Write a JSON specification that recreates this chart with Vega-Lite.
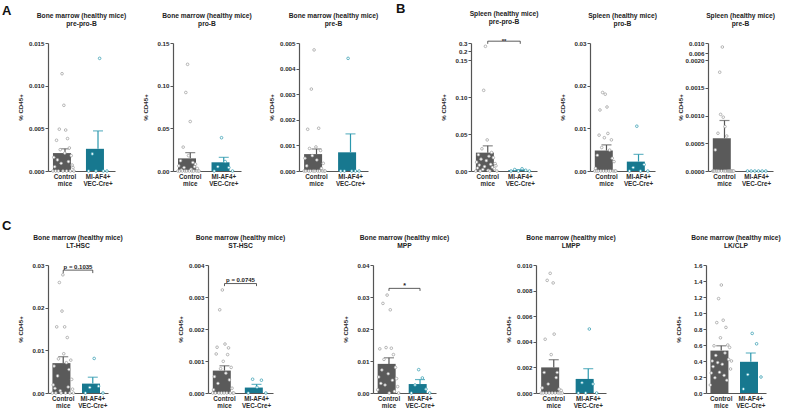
{
  "$schema": "https://vega.github.io/schema/vega-lite/v6.json",
  "padding": {"left": 2, "top": 2, "right": 2, "bottom": 0},
  "background": "white",
  "config": {
    "font": "Liberation Sans",
    "view": {"stroke": null},
    "axis": {"grid": false, "domainColor": "#555555", "tickColor": "#555555", "labelColor": "#2a2a2a", "titleColor": "#2a2a2a", "labelFont": "Liberation Sans", "titleFont": "Liberation Sans"},
    "axisY": {"tickSize": 3, "tickWidth": 1, "labelPadding": 1, "labelFontSize": 6.2, "labelFontWeight": "bold", "titleFontSize": 6.2, "titleFontWeight": "bold", "minExtent": 21, "maxExtent": 21, "titlePadding": 4, "domainWidth": 1.2, "labelOverlap": false},
    "axisX": {"ticks": false, "labelAngle": 0, "labelFontSize": 6.3, "labelLineHeight": 7, "labelPadding": 2, "domainWidth": 1.2, "labelOverlap": false, "labelFontWeight": "bold"},
    "title": {"fontSize": 6.7, "fontWeight": "bold", "lineHeight": 8.3, "offset": 12, "color": "#222222", "font": "Liberation Sans"},
    "scale": {"bandPaddingInner": 0.27, "bandPaddingOuter": 0.15}
  },
  "datasets": {
    "bars": [
      {"p": "A1", "g": "Control mice", "mean": 0.0021, "hi": 0.0026},
      {"p": "A1", "g": "MI-AF4+ VEC-Cre+", "mean": 0.0026, "hi": 0.0047},
      {"p": "A2", "g": "Control mice", "mean": 0.0148, "hi": 0.0215},
      {"p": "A2", "g": "MI-AF4+ VEC-Cre+", "mean": 0.0102, "hi": 0.016},
      {"p": "A3", "g": "Control mice", "mean": 0.00066, "hi": 0.00086},
      {"p": "A3", "g": "MI-AF4+ VEC-Cre+", "mean": 0.00073, "hi": 0.00145},
      {"p": "B1", "g": "Control mice", "mean": 0.0248, "hi": 0.034},
      {"p": "B1", "g": "MI-AF4+ VEC-Cre+", "mean": 0.0012, "hi": 0.0018},
      {"p": "B2", "g": "Control mice", "mean": 0.0048, "hi": 0.0061},
      {"p": "B2", "g": "MI-AF4+ VEC-Cre+", "mean": 0.0022, "hi": 0.0039},
      {"p": "B3", "g": "Control mice", "mean": 0.00059, "hi": 0.00091},
      {"p": "B3", "g": "MI-AF4+ VEC-Cre+", "mean": 0, "hi": 0},
      {"p": "C1", "g": "Control mice", "mean": 0.007, "hi": 0.0085},
      {"p": "C1", "g": "MI-AF4+ VEC-Cre+", "mean": 0.0022, "hi": 0.0037},
      {"p": "C2", "g": "Control mice", "mean": 0.0007, "hi": 0.00085},
      {"p": "C2", "g": "MI-AF4+ VEC-Cre+", "mean": 0.00017, "hi": 0.00027},
      {"p": "C3", "g": "Control mice", "mean": 0.0091, "hi": 0.011},
      {"p": "C3", "g": "MI-AF4+ VEC-Cre+", "mean": 0.0028, "hi": 0.0042},
      {"p": "C4", "g": "Control mice", "mean": 0.002, "hi": 0.0026},
      {"p": "C4", "g": "MI-AF4+ VEC-Cre+", "mean": 0.0011, "hi": 0.0019},
      {"p": "C5", "g": "Control mice", "mean": 0.53, "hi": 0.59},
      {"p": "C5", "g": "MI-AF4+ VEC-Cre+", "mean": 0.39, "hi": 0.5}
    ],
    "sig": [
      {"p": "B1", "a": "Control mice", "b": "MI-AF4+ VEC-Cre+", "y": 0.322, "t": 0.29, "label": "**"},
      {"p": "C1", "a": "Control mice", "b": "MI-AF4+ VEC-Cre+", "y": 0.0288, "t": 0.0281, "label": "p = 0.1035"},
      {"p": "C2", "a": "Control mice", "b": "MI-AF4+ VEC-Cre+", "y": 0.00342, "t": 0.00334, "label": "p = 0.0745"},
      {"p": "C3", "a": "Control mice", "b": "MI-AF4+ VEC-Cre+", "y": 0.0327, "t": 0.0319, "label": "*"}
    ],
    "pts": [
      {"p":"A1","g":"Control mice","v":0},{"p":"A1","g":"Control mice","v":0.0016},{"p":"A1","g":"Control mice","v":0.0005},{"p":"A1","g":"Control mice","v":0},{"p":"A1","g":"Control mice","v":0.0036},{"p":"A1","g":"Control mice","v":0.0013},{"p":"A1","g":"Control mice","v":0},{"p":"A1","g":"Control mice","v":0.0049},{"p":"A1","g":"Control mice","v":0.0025},{"p":"A1","g":"Control mice","v":0.0009},{"p":"A1","g":"Control mice","v":0.0114},{"p":"A1","g":"Control mice","v":0},{"p":"A1","g":"Control mice","v":0.0077},{"p":"A1","g":"Control mice","v":0.0021},{"p":"A1","g":"Control mice","v":0.0048},{"p":"A1","g":"Control mice","v":0},{"p":"A1","g":"Control mice","v":0.0038},{"p":"A1","g":"Control mice","v":0.0011},{"p":"A1","g":"Control mice","v":0.0027},{"p":"A1","g":"Control mice","v":0},{"p":"A1","g":"Control mice","v":0.0018},{"p":"A1","g":"Control mice","v":0.0007},{"p":"A1","g":"Control mice","v":0.0004},{"p":"A1","g":"Control mice","v":0},
      {"p":"A1","g":"MI-AF4+ VEC-Cre+","v":0},{"p":"A1","g":"MI-AF4+ VEC-Cre+","v":0.002},{"p":"A1","g":"MI-AF4+ VEC-Cre+","v":0},{"p":"A1","g":"MI-AF4+ VEC-Cre+","v":0.0132},{"p":"A1","g":"MI-AF4+ VEC-Cre+","v":0},{"p":"A1","g":"MI-AF4+ VEC-Cre+","v":0},
      {"p":"A2","g":"Control mice","v":0},{"p":"A2","g":"Control mice","v":0.006},{"p":"A2","g":"Control mice","v":0},{"p":"A2","g":"Control mice","v":0.012},{"p":"A2","g":"Control mice","v":0.001},{"p":"A2","g":"Control mice","v":0},{"p":"A2","g":"Control mice","v":0.028},{"p":"A2","g":"Control mice","v":0.004},{"p":"A2","g":"Control mice","v":0},{"p":"A2","g":"Control mice","v":0.092},{"p":"A2","g":"Control mice","v":0},{"p":"A2","g":"Control mice","v":0.125},{"p":"A2","g":"Control mice","v":0.018},{"p":"A2","g":"Control mice","v":0},{"p":"A2","g":"Control mice","v":0.058},{"p":"A2","g":"Control mice","v":0.002},{"p":"A2","g":"Control mice","v":0},{"p":"A2","g":"Control mice","v":0.01},{"p":"A2","g":"Control mice","v":0},{"p":"A2","g":"Control mice","v":0.005},{"p":"A2","g":"Control mice","v":0.008},{"p":"A2","g":"Control mice","v":0},{"p":"A2","g":"Control mice","v":0.003},{"p":"A2","g":"Control mice","v":0},{"p":"A2","g":"Control mice","v":0},
      {"p":"A2","g":"MI-AF4+ VEC-Cre+","v":0},{"p":"A2","g":"MI-AF4+ VEC-Cre+","v":0.005},{"p":"A2","g":"MI-AF4+ VEC-Cre+","v":0.039},{"p":"A2","g":"MI-AF4+ VEC-Cre+","v":0.011},{"p":"A2","g":"MI-AF4+ VEC-Cre+","v":0.004},{"p":"A2","g":"MI-AF4+ VEC-Cre+","v":0},
      {"p":"A3","g":"Control mice","v":0},{"p":"A3","g":"Control mice","v":0.0005},{"p":"A3","g":"Control mice","v":0},{"p":"A3","g":"Control mice","v":0.0002},{"p":"A3","g":"Control mice","v":0.00163},{"p":"A3","g":"Control mice","v":0},{"p":"A3","g":"Control mice","v":0.00088},{"p":"A3","g":"Control mice","v":0},{"p":"A3","g":"Control mice","v":0.0032},{"p":"A3","g":"Control mice","v":0.0006},{"p":"A3","g":"Control mice","v":0},{"p":"A3","g":"Control mice","v":0.00473},{"p":"A3","g":"Control mice","v":0},{"p":"A3","g":"Control mice","v":0.00094},{"p":"A3","g":"Control mice","v":0.00043},{"p":"A3","g":"Control mice","v":0},{"p":"A3","g":"Control mice","v":0.00167},{"p":"A3","g":"Control mice","v":0},{"p":"A3","g":"Control mice","v":0.0008},{"p":"A3","g":"Control mice","v":0.0001},{"p":"A3","g":"Control mice","v":0},{"p":"A3","g":"Control mice","v":0.0003},{"p":"A3","g":"Control mice","v":0},{"p":"A3","g":"Control mice","v":0},
      {"p":"A3","g":"MI-AF4+ VEC-Cre+","v":0},{"p":"A3","g":"MI-AF4+ VEC-Cre+","v":0},{"p":"A3","g":"MI-AF4+ VEC-Cre+","v":0.0044},{"p":"A3","g":"MI-AF4+ VEC-Cre+","v":0},{"p":"A3","g":"MI-AF4+ VEC-Cre+","v":0},{"p":"A3","g":"MI-AF4+ VEC-Cre+","v":0},
      {"p":"B1","g":"Control mice","v":0},{"p":"B1","g":"Control mice","v":0.012},{"p":"B1","g":"Control mice","v":0.004},{"p":"B1","g":"Control mice","v":0.022},{"p":"B1","g":"Control mice","v":0.008},{"p":"B1","g":"Control mice","v":0},{"p":"B1","g":"Control mice","v":0.016},{"p":"B1","g":"Control mice","v":0.03},{"p":"B1","g":"Control mice","v":0.002},{"p":"B1","g":"Control mice","v":0.109},{"p":"B1","g":"Control mice","v":0.006},{"p":"B1","g":"Control mice","v":0.26},{"p":"B1","g":"Control mice","v":0.014},{"p":"B1","g":"Control mice","v":0.042},{"p":"B1","g":"Control mice","v":0.001},{"p":"B1","g":"Control mice","v":0.02},{"p":"B1","g":"Control mice","v":0},{"p":"B1","g":"Control mice","v":0.009},{"p":"B1","g":"Control mice","v":0.025},{"p":"B1","g":"Control mice","v":0.005},{"p":"B1","g":"Control mice","v":0.018},{"p":"B1","g":"Control mice","v":0.003},{"p":"B1","g":"Control mice","v":0.01},{"p":"B1","g":"Control mice","v":0.007},{"p":"B1","g":"Control mice","v":0},
      {"p":"B1","g":"MI-AF4+ VEC-Cre+","v":0},{"p":"B1","g":"MI-AF4+ VEC-Cre+","v":0.002},{"p":"B1","g":"MI-AF4+ VEC-Cre+","v":0},{"p":"B1","g":"MI-AF4+ VEC-Cre+","v":0.003},{"p":"B1","g":"MI-AF4+ VEC-Cre+","v":0.001},{"p":"B1","g":"MI-AF4+ VEC-Cre+","v":0},
      {"p":"B2","g":"Control mice","v":0},{"p":"B2","g":"Control mice","v":0.0006},{"p":"B2","g":"Control mice","v":0},{"p":"B2","g":"Control mice","v":0.0037},{"p":"B2","g":"Control mice","v":0},{"p":"B2","g":"Control mice","v":0.0084},{"p":"B2","g":"Control mice","v":0.0143},{"p":"B2","g":"Control mice","v":0},{"p":"B2","g":"Control mice","v":0.0055},{"p":"B2","g":"Control mice","v":0.0184},{"p":"B2","g":"Control mice","v":0},{"p":"B2","g":"Control mice","v":0.0078},{"p":"B2","g":"Control mice","v":0.018},{"p":"B2","g":"Control mice","v":0},{"p":"B2","g":"Control mice","v":0.015},{"p":"B2","g":"Control mice","v":0.0088},{"p":"B2","g":"Control mice","v":0},{"p":"B2","g":"Control mice","v":0.0049},{"p":"B2","g":"Control mice","v":0},{"p":"B2","g":"Control mice","v":0.0073},{"p":"B2","g":"Control mice","v":0.003},{"p":"B2","g":"Control mice","v":0},{"p":"B2","g":"Control mice","v":0.0022},{"p":"B2","g":"Control mice","v":0},{"p":"B2","g":"Control mice","v":0},
      {"p":"B2","g":"MI-AF4+ VEC-Cre+","v":0},{"p":"B2","g":"MI-AF4+ VEC-Cre+","v":0.0008},{"p":"B2","g":"MI-AF4+ VEC-Cre+","v":0.0105},{"p":"B2","g":"MI-AF4+ VEC-Cre+","v":0},{"p":"B2","g":"MI-AF4+ VEC-Cre+","v":0.0015},{"p":"B2","g":"MI-AF4+ VEC-Cre+","v":0},
      {"p":"B3","g":"Control mice","v":0},{"p":"B3","g":"Control mice","v":0},{"p":"B3","g":"Control mice","v":0},{"p":"B3","g":"Control mice","v":0.00038},{"p":"B3","g":"Control mice","v":0},{"p":"B3","g":"Control mice","v":0},{"p":"B3","g":"Control mice","v":0.00068},{"p":"B3","g":"Control mice","v":0},{"p":"B3","g":"Control mice","v":0.00178},{"p":"B3","g":"Control mice","v":0.00102},{"p":"B3","g":"Control mice","v":0},{"p":"B3","g":"Control mice","v":0.0084},{"p":"B3","g":"Control mice","v":0.00097},{"p":"B3","g":"Control mice","v":0},{"p":"B3","g":"Control mice","v":0.0008},{"p":"B3","g":"Control mice","v":0},{"p":"B3","g":"Control mice","v":0.00063},{"p":"B3","g":"Control mice","v":0},{"p":"B3","g":"Control mice","v":0},{"p":"B3","g":"Control mice","v":0},{"p":"B3","g":"Control mice","v":0},{"p":"B3","g":"Control mice","v":0},{"p":"B3","g":"Control mice","v":0},{"p":"B3","g":"Control mice","v":0},{"p":"B3","g":"Control mice","v":0},
      {"p":"B3","g":"MI-AF4+ VEC-Cre+","v":0},{"p":"B3","g":"MI-AF4+ VEC-Cre+","v":0},{"p":"B3","g":"MI-AF4+ VEC-Cre+","v":0},{"p":"B3","g":"MI-AF4+ VEC-Cre+","v":0},{"p":"B3","g":"MI-AF4+ VEC-Cre+","v":0},{"p":"B3","g":"MI-AF4+ VEC-Cre+","v":0},
      {"p":"C1","g":"Control mice","v":0},{"p":"C1","g":"Control mice","v":0.0019},{"p":"C1","g":"Control mice","v":0.0063},{"p":"C1","g":"Control mice","v":0.0011},{"p":"C1","g":"Control mice","v":0},{"p":"C1","g":"Control mice","v":0.0155},{"p":"C1","g":"Control mice","v":0.004},{"p":"C1","g":"Control mice","v":0.008},{"p":"C1","g":"Control mice","v":0.0259},{"p":"C1","g":"Control mice","v":0.0005},{"p":"C1","g":"Control mice","v":0},{"p":"C1","g":"Control mice","v":0.0192},{"p":"C1","g":"Control mice","v":0.0277},{"p":"C1","g":"Control mice","v":0.0092},{"p":"C1","g":"Control mice","v":0.0155},{"p":"C1","g":"Control mice","v":0},{"p":"C1","g":"Control mice","v":0.0071},{"p":"C1","g":"Control mice","v":0.013},{"p":"C1","g":"Control mice","v":0.0014},{"p":"C1","g":"Control mice","v":0.0055},{"p":"C1","g":"Control mice","v":0},{"p":"C1","g":"Control mice","v":0.0077},{"p":"C1","g":"Control mice","v":0.0032},{"p":"C1","g":"Control mice","v":0.0009},{"p":"C1","g":"Control mice","v":0},
      {"p":"C1","g":"MI-AF4+ VEC-Cre+","v":0},{"p":"C1","g":"MI-AF4+ VEC-Cre+","v":0.0013},{"p":"C1","g":"MI-AF4+ VEC-Cre+","v":0.0081},{"p":"C1","g":"MI-AF4+ VEC-Cre+","v":0.0016},{"p":"C1","g":"MI-AF4+ VEC-Cre+","v":0},
      {"p":"C2","g":"Control mice","v":0},{"p":"C2","g":"Control mice","v":0.0001},{"p":"C2","g":"Control mice","v":0.00051},{"p":"C2","g":"Control mice","v":0},{"p":"C2","g":"Control mice","v":0.00122},{"p":"C2","g":"Control mice","v":0.00143},{"p":"C2","g":"Control mice","v":0.0003},{"p":"C2","g":"Control mice","v":0},{"p":"C2","g":"Control mice","v":0.0026},{"p":"C2","g":"Control mice","v":0.00076},{"p":"C2","g":"Control mice","v":0},{"p":"C2","g":"Control mice","v":0.00322},{"p":"C2","g":"Control mice","v":0.00099},{"p":"C2","g":"Control mice","v":0},{"p":"C2","g":"Control mice","v":0.00153},{"p":"C2","g":"Control mice","v":0.00062},{"p":"C2","g":"Control mice","v":0},{"p":"C2","g":"Control mice","v":0.0012},{"p":"C2","g":"Control mice","v":0.00141},{"p":"C2","g":"Control mice","v":0.00041},{"p":"C2","g":"Control mice","v":0},{"p":"C2","g":"Control mice","v":0.0008},{"p":"C2","g":"Control mice","v":0.00015},{"p":"C2","g":"Control mice","v":0},{"p":"C2","g":"Control mice","v":0},
      {"p":"C2","g":"MI-AF4+ VEC-Cre+","v":0},{"p":"C2","g":"MI-AF4+ VEC-Cre+","v":0.00043},{"p":"C2","g":"MI-AF4+ VEC-Cre+","v":0.00018},{"p":"C2","g":"MI-AF4+ VEC-Cre+","v":0.0004},{"p":"C2","g":"MI-AF4+ VEC-Cre+","v":0},
      {"p":"C3","g":"Control mice","v":0.001},{"p":"C3","g":"Control mice","v":0.005},{"p":"C3","g":"Control mice","v":0.0138},{"p":"C3","g":"Control mice","v":0.003},{"p":"C3","g":"Control mice","v":0.0072},{"p":"C3","g":"Control mice","v":0.028},{"p":"C3","g":"Control mice","v":0.0105},{"p":"C3","g":"Control mice","v":0.0025},{"p":"C3","g":"Control mice","v":0.0142},{"p":"C3","g":"Control mice","v":0.0306},{"p":"C3","g":"Control mice","v":0.006},{"p":"C3","g":"Control mice","v":0},{"p":"C3","g":"Control mice","v":0.026},{"p":"C3","g":"Control mice","v":0.014},{"p":"C3","g":"Control mice","v":0.004},{"p":"C3","g":"Control mice","v":0.012},{"p":"C3","g":"Control mice","v":0.0005},{"p":"C3","g":"Control mice","v":0.008},{"p":"C3","g":"Control mice","v":0.0045},{"p":"C3","g":"Control mice","v":0.002},{"p":"C3","g":"Control mice","v":0},
      {"p":"C3","g":"MI-AF4+ VEC-Cre+","v":0},{"p":"C3","g":"MI-AF4+ VEC-Cre+","v":0.0025},{"p":"C3","g":"MI-AF4+ VEC-Cre+","v":0.0073},{"p":"C3","g":"MI-AF4+ VEC-Cre+","v":0.0047},{"p":"C3","g":"MI-AF4+ VEC-Cre+","v":0.0012},{"p":"C3","g":"MI-AF4+ VEC-Cre+","v":0},
      {"p":"C4","g":"Control mice","v":0},{"p":"C4","g":"Control mice","v":0.0004},{"p":"C4","g":"Control mice","v":0},{"p":"C4","g":"Control mice","v":0.0016},{"p":"C4","g":"Control mice","v":0.0042},{"p":"C4","g":"Control mice","v":0},{"p":"C4","g":"Control mice","v":0.0088},{"p":"C4","g":"Control mice","v":0.0007},{"p":"C4","g":"Control mice","v":0},{"p":"C4","g":"Control mice","v":0.00935},{"p":"C4","g":"Control mice","v":0.003},{"p":"C4","g":"Control mice","v":0},{"p":"C4","g":"Control mice","v":0.0086},{"p":"C4","g":"Control mice","v":0.0046},{"p":"C4","g":"Control mice","v":0},{"p":"C4","g":"Control mice","v":0.0012},{"p":"C4","g":"Control mice","v":0.0016},{"p":"C4","g":"Control mice","v":0},{"p":"C4","g":"Control mice","v":0.0003},{"p":"C4","g":"Control mice","v":0},{"p":"C4","g":"Control mice","v":0.0002},{"p":"C4","g":"Control mice","v":0},
      {"p":"C4","g":"MI-AF4+ VEC-Cre+","v":0},{"p":"C4","g":"MI-AF4+ VEC-Cre+","v":0.0008},{"p":"C4","g":"MI-AF4+ VEC-Cre+","v":0},{"p":"C4","g":"MI-AF4+ VEC-Cre+","v":0.005},{"p":"C4","g":"MI-AF4+ VEC-Cre+","v":0.0007},{"p":"C4","g":"MI-AF4+ VEC-Cre+","v":0},
      {"p":"C5","g":"Control mice","v":0.1},{"p":"C5","g":"Control mice","v":0.25},{"p":"C5","g":"Control mice","v":0.4},{"p":"C5","g":"Control mice","v":0.33},{"p":"C5","g":"Control mice","v":0.59},{"p":"C5","g":"Control mice","v":0.19},{"p":"C5","g":"Control mice","v":0.47},{"p":"C5","g":"Control mice","v":0.88},{"p":"C5","g":"Control mice","v":0.38},{"p":"C5","g":"Control mice","v":1.18},{"p":"C5","g":"Control mice","v":0.26},{"p":"C5","g":"Control mice","v":0.69},{"p":"C5","g":"Control mice","v":1.35},{"p":"C5","g":"Control mice","v":0.36},{"p":"C5","g":"Control mice","v":0.91},{"p":"C5","g":"Control mice","v":0.22},{"p":"C5","g":"Control mice","v":0.5},{"p":"C5","g":"Control mice","v":0.82},{"p":"C5","g":"Control mice","v":0.16},{"p":"C5","g":"Control mice","v":0.6},{"p":"C5","g":"Control mice","v":0.42},{"p":"C5","g":"Control mice","v":0.57},{"p":"C5","g":"Control mice","v":0.3},{"p":"C5","g":"Control mice","v":0.4},
      {"p":"C5","g":"MI-AF4+ VEC-Cre+","v":0.05},{"p":"C5","g":"MI-AF4+ VEC-Cre+","v":0.23},{"p":"C5","g":"MI-AF4+ VEC-Cre+","v":0.745},{"p":"C5","g":"MI-AF4+ VEC-Cre+","v":0.615},{"p":"C5","g":"MI-AF4+ VEC-Cre+","v":0.2}
    ]
  },
  "spacing": 33,
  "vconcat": [
    {
      "spacing": 17,
      "hconcat": [
        {
          "title": {"text": "A", "anchor": "start", "frame": "bounds", "fontSize": 13, "fontWeight": "bold", "offset": -4.5, "dx": -15, "color": "#111111"},
          "spacing": 58,
          "bounds": "flush",
          "hconcat": [
            {
              "width": 67, "height": 128,
              "title": {"text": ["Bone marrow (healthy mice)", "pre-pro-B"]},
              "encoding": {"y": {"field": "mean", "type": "quantitative", "title": "% CD45+", "scale": {"domain": [0, 0.015], "nice": false, "zero": false}, "axis": {"values": [0, 0.005, 0.01, 0.015], "format": ".3f"}}},
              "layer": [
                {"data": {"name": "bars"}, "transform": [{"filter": "datum.p == 'A1'"}], "mark": {"type": "bar"}, "encoding": {"x": {"field": "g", "type": "nominal", "title": null, "axis": {"labelExpr": "split(datum.label, ' ')"}}, "fill": {"condition": {"test": "datum.g == 'Control mice'", "value": "#5a5a5a"}, "value": "#17788f"}}},
                {"data": {"name": "bars"}, "transform": [{"filter": "datum.p == 'A1' && datum.hi > datum.mean"}], "mark": {"type": "rule", "strokeWidth": 1.2}, "encoding": {"x": {"field": "g", "type": "nominal", "title": null}, "y2": {"field": "hi"}, "color": {"condition": {"test": "datum.g == 'Control mice'", "value": "#555555"}, "value": "#2b98ae"}}},
                {"data": {"name": "bars"}, "transform": [{"filter": "datum.p == 'A1' && datum.hi > datum.mean"}], "mark": {"type": "tick", "orient": "horizontal", "thickness": 1.2}, "encoding": {"x": {"field": "g", "type": "nominal", "title": null}, "y": {"field": "hi", "type": "quantitative"}, "size": {"value": 10}, "color": {"condition": {"test": "datum.g == 'Control mice'", "value": "#555555"}, "value": "#2b98ae"}}},
                {"data": {"name": "pts"}, "transform": [{"filter": "datum.p == 'A1'"}, {"window": [{"op": "row_number", "as": "m"}], "groupby": ["g"]}, {"window": [{"op": "cume_dist", "as": "cd"}], "groupby": ["g"], "sort": [{"field": "m"}]}], "mark": {"type": "point", "shape": "circle", "fill": "white", "fillOpacity": 1, "strokeWidth": 0.7, "size": 7, "opacity": 1}, "encoding": {"x": {"field": "g", "type": "nominal", "title": null}, "xOffset": {"field": "cd", "type": "quantitative", "scale": {"domain": [0, 1], "range": [-1, 21]}}, "y": {"field": "v", "type": "quantitative"}, "stroke": {"condition": {"test": "datum.g == 'Control mice'", "value": "#999999"}, "value": "#2b98ae"}}}
              ]
            },
            {
              "width": 68, "height": 128,
              "title": {"text": ["Bone marrow (healthy mice)", "pro-B"]},
              "encoding": {"y": {"field": "mean", "type": "quantitative", "title": "% CD45+", "scale": {"domain": [0, 0.15], "nice": false, "zero": false}, "axis": {"values": [0, 0.05, 0.1, 0.15], "format": ".2f"}}},
              "layer": [
                {"data": {"name": "bars"}, "transform": [{"filter": "datum.p == 'A2'"}], "mark": {"type": "bar"}, "encoding": {"x": {"field": "g", "type": "nominal", "title": null, "axis": {"labelExpr": "split(datum.label, ' ')"}}, "fill": {"condition": {"test": "datum.g == 'Control mice'", "value": "#5a5a5a"}, "value": "#17788f"}}},
                {"data": {"name": "bars"}, "transform": [{"filter": "datum.p == 'A2' && datum.hi > datum.mean"}], "mark": {"type": "rule", "strokeWidth": 1.2}, "encoding": {"x": {"field": "g", "type": "nominal", "title": null}, "y2": {"field": "hi"}, "color": {"condition": {"test": "datum.g == 'Control mice'", "value": "#555555"}, "value": "#2b98ae"}}},
                {"data": {"name": "bars"}, "transform": [{"filter": "datum.p == 'A2' && datum.hi > datum.mean"}], "mark": {"type": "tick", "orient": "horizontal", "thickness": 1.2}, "encoding": {"x": {"field": "g", "type": "nominal", "title": null}, "y": {"field": "hi", "type": "quantitative"}, "size": {"value": 10}, "color": {"condition": {"test": "datum.g == 'Control mice'", "value": "#555555"}, "value": "#2b98ae"}}},
                {"data": {"name": "pts"}, "transform": [{"filter": "datum.p == 'A2'"}, {"window": [{"op": "row_number", "as": "m"}], "groupby": ["g"]}, {"window": [{"op": "cume_dist", "as": "cd"}], "groupby": ["g"], "sort": [{"field": "m"}]}], "mark": {"type": "point", "shape": "circle", "fill": "white", "fillOpacity": 1, "strokeWidth": 0.7, "size": 7, "opacity": 1}, "encoding": {"x": {"field": "g", "type": "nominal", "title": null}, "xOffset": {"field": "cd", "type": "quantitative", "scale": {"domain": [0, 1], "range": [-1, 21]}}, "y": {"field": "v", "type": "quantitative"}, "stroke": {"condition": {"test": "datum.g == 'Control mice'", "value": "#999999"}, "value": "#2b98ae"}}}
              ]
            },
            {
              "width": 69, "height": 128,
              "title": {"text": ["Bone marrow (healthy mice)", "pre-B"]},
              "encoding": {"y": {"field": "mean", "type": "quantitative", "title": "% CD45+", "scale": {"domain": [0, 0.005], "nice": false, "zero": false}, "axis": {"values": [0, 0.001, 0.002, 0.003, 0.004, 0.005], "format": ".3f"}}},
              "layer": [
                {"data": {"name": "bars"}, "transform": [{"filter": "datum.p == 'A3'"}], "mark": {"type": "bar"}, "encoding": {"x": {"field": "g", "type": "nominal", "title": null, "axis": {"labelExpr": "split(datum.label, ' ')"}}, "fill": {"condition": {"test": "datum.g == 'Control mice'", "value": "#5a5a5a"}, "value": "#17788f"}}},
                {"data": {"name": "bars"}, "transform": [{"filter": "datum.p == 'A3' && datum.hi > datum.mean"}], "mark": {"type": "rule", "strokeWidth": 1.2}, "encoding": {"x": {"field": "g", "type": "nominal", "title": null}, "y2": {"field": "hi"}, "color": {"condition": {"test": "datum.g == 'Control mice'", "value": "#555555"}, "value": "#2b98ae"}}},
                {"data": {"name": "bars"}, "transform": [{"filter": "datum.p == 'A3' && datum.hi > datum.mean"}], "mark": {"type": "tick", "orient": "horizontal", "thickness": 1.2}, "encoding": {"x": {"field": "g", "type": "nominal", "title": null}, "y": {"field": "hi", "type": "quantitative"}, "size": {"value": 10}, "color": {"condition": {"test": "datum.g == 'Control mice'", "value": "#555555"}, "value": "#2b98ae"}}},
                {"data": {"name": "pts"}, "transform": [{"filter": "datum.p == 'A3'"}, {"window": [{"op": "row_number", "as": "m"}], "groupby": ["g"]}, {"window": [{"op": "cume_dist", "as": "cd"}], "groupby": ["g"], "sort": [{"field": "m"}]}], "mark": {"type": "point", "shape": "circle", "fill": "white", "fillOpacity": 1, "strokeWidth": 0.7, "size": 7, "opacity": 1}, "encoding": {"x": {"field": "g", "type": "nominal", "title": null}, "xOffset": {"field": "cd", "type": "quantitative", "scale": {"domain": [0, 1], "range": [-1, 21]}}, "y": {"field": "v", "type": "quantitative"}, "stroke": {"condition": {"test": "datum.g == 'Control mice'", "value": "#999999"}, "value": "#2b98ae"}}}
              ]
            }
          ]
        },
        {
          "title": {"text": "B", "anchor": "start", "frame": "bounds", "fontSize": 13, "fontWeight": "bold", "offset": -4.5, "dx": -44, "color": "#111111"},
          "spacing": 53,
          "bounds": "flush",
          "hconcat": [
            {
              "width": 66, "height": 128,
              "title": {"text": ["Spleen (healthy mice)", "pre-pro-B"]},
              "encoding": {"y": {"field": "mean", "type": "quantitative", "title": "% CD45+", "scale": {"domain": [0, 0.15, 0.2, 0.3], "range": [128, 17, 8.3, 0], "nice": false, "zero": false}, "axis": {"values": [0, 0.05, 0.1, 0.15, 0.2, 0.3], "labelExpr": "datum.value >= 0.2 ? format(datum.value, '.1f') : format(datum.value, '.2f')"}}},
              "layer": [
                {"data": {"name": "bars"}, "transform": [{"filter": "datum.p == 'B1'"}], "mark": {"type": "bar"}, "encoding": {"x": {"field": "g", "type": "nominal", "title": null, "axis": {"labelExpr": "split(datum.label, ' ')"}}, "fill": {"condition": {"test": "datum.g == 'Control mice'", "value": "#5a5a5a"}, "value": "#17788f"}}},
                {"data": {"name": "bars"}, "transform": [{"filter": "datum.p == 'B1' && datum.hi > datum.mean"}], "mark": {"type": "rule", "strokeWidth": 1.2}, "encoding": {"x": {"field": "g", "type": "nominal", "title": null}, "y2": {"field": "hi"}, "color": {"condition": {"test": "datum.g == 'Control mice'", "value": "#555555"}, "value": "#2b98ae"}}},
                {"data": {"name": "bars"}, "transform": [{"filter": "datum.p == 'B1' && datum.hi > datum.mean"}], "mark": {"type": "tick", "orient": "horizontal", "thickness": 1.2}, "encoding": {"x": {"field": "g", "type": "nominal", "title": null}, "y": {"field": "hi", "type": "quantitative"}, "size": {"value": 10}, "color": {"condition": {"test": "datum.g == 'Control mice'", "value": "#555555"}, "value": "#2b98ae"}}},
                {"data": {"name": "pts"}, "transform": [{"filter": "datum.p == 'B1'"}, {"window": [{"op": "row_number", "as": "m"}], "groupby": ["g"]}, {"window": [{"op": "cume_dist", "as": "cd"}], "groupby": ["g"], "sort": [{"field": "m"}]}], "mark": {"type": "point", "shape": "circle", "fill": "white", "fillOpacity": 1, "strokeWidth": 0.7, "size": 7, "opacity": 1}, "encoding": {"x": {"field": "g", "type": "nominal", "title": null}, "xOffset": {"field": "cd", "type": "quantitative", "scale": {"domain": [0, 1], "range": [-1, 21]}}, "y": {"field": "v", "type": "quantitative"}, "stroke": {"condition": {"test": "datum.g == 'Control mice'", "value": "#999999"}, "value": "#2b98ae"}}},
                {"data": {"name": "sig"}, "transform": [{"filter": "datum.p == 'B1'"}], "mark": {"type": "rule", "strokeWidth": 0.8, "color": "#333333"}, "encoding": {"x": {"field": "a", "type": "nominal", "title": null}, "x2": {"field": "b"}, "y": {"field": "y", "type": "quantitative"}}},
                {"data": {"name": "sig"}, "transform": [{"filter": "datum.p == 'B1'"}], "mark": {"type": "rule", "strokeWidth": 0.8, "color": "#333333"}, "encoding": {"x": {"field": "a", "type": "nominal", "title": null}, "y": {"field": "y", "type": "quantitative"}, "y2": {"field": "t"}}},
                {"data": {"name": "sig"}, "transform": [{"filter": "datum.p == 'B1'"}], "mark": {"type": "rule", "strokeWidth": 0.8, "color": "#333333"}, "encoding": {"x": {"field": "b", "type": "nominal", "title": null}, "y": {"field": "y", "type": "quantitative"}, "y2": {"field": "t"}}},
                {"data": {"name": "sig"}, "transform": [{"filter": "datum.p == 'B1'"}], "mark": {"type": "text", "fontSize": 6, "fontWeight": "bold", "baseline": "middle", "dy": 0, "color": "#222222"}, "encoding": {"y": {"field": "y", "type": "quantitative"}, "text": {"field": "label"}}}
              ]
            },
            {
              "width": 65, "height": 128,
              "title": {"text": ["Spleen (healthy mice)", "pro-B"]},
              "encoding": {"y": {"field": "mean", "type": "quantitative", "title": "% CD45+", "scale": {"domain": [0, 0.03], "nice": false, "zero": false}, "axis": {"values": [0, 0.01, 0.02, 0.03], "format": ".2f"}}},
              "layer": [
                {"data": {"name": "bars"}, "transform": [{"filter": "datum.p == 'B2'"}], "mark": {"type": "bar"}, "encoding": {"x": {"field": "g", "type": "nominal", "title": null, "axis": {"labelExpr": "split(datum.label, ' ')"}}, "fill": {"condition": {"test": "datum.g == 'Control mice'", "value": "#5a5a5a"}, "value": "#17788f"}}},
                {"data": {"name": "bars"}, "transform": [{"filter": "datum.p == 'B2' && datum.hi > datum.mean"}], "mark": {"type": "rule", "strokeWidth": 1.2}, "encoding": {"x": {"field": "g", "type": "nominal", "title": null}, "y2": {"field": "hi"}, "color": {"condition": {"test": "datum.g == 'Control mice'", "value": "#555555"}, "value": "#2b98ae"}}},
                {"data": {"name": "bars"}, "transform": [{"filter": "datum.p == 'B2' && datum.hi > datum.mean"}], "mark": {"type": "tick", "orient": "horizontal", "thickness": 1.2}, "encoding": {"x": {"field": "g", "type": "nominal", "title": null}, "y": {"field": "hi", "type": "quantitative"}, "size": {"value": 10}, "color": {"condition": {"test": "datum.g == 'Control mice'", "value": "#555555"}, "value": "#2b98ae"}}},
                {"data": {"name": "pts"}, "transform": [{"filter": "datum.p == 'B2'"}, {"window": [{"op": "row_number", "as": "m"}], "groupby": ["g"]}, {"window": [{"op": "cume_dist", "as": "cd"}], "groupby": ["g"], "sort": [{"field": "m"}]}], "mark": {"type": "point", "shape": "circle", "fill": "white", "fillOpacity": 1, "strokeWidth": 0.7, "size": 7, "opacity": 1}, "encoding": {"x": {"field": "g", "type": "nominal", "title": null}, "xOffset": {"field": "cd", "type": "quantitative", "scale": {"domain": [0, 1], "range": [-1, 21]}}, "y": {"field": "v", "type": "quantitative"}, "stroke": {"condition": {"test": "datum.g == 'Control mice'", "value": "#999999"}, "value": "#2b98ae"}}}
              ]
            },
            {
              "width": 65, "height": 128,
              "title": {"text": ["Spleen (healthy mice)", "pre-B"]},
              "encoding": {"y": {"field": "mean", "type": "quantitative", "title": "% CD45+", "scale": {"domain": [0, 0.002, 0.006, 0.01], "range": [128, 17, 10, 0], "nice": false, "zero": false}, "axis": {"values": [0, 0.0005, 0.001, 0.0015, 0.002, 0.006, 0.01], "labelExpr": "datum.value > 0.003 ? format(datum.value, '.3f') : format(datum.value, '.4f')"}}},
              "layer": [
                {"data": {"name": "bars"}, "transform": [{"filter": "datum.p == 'B3'"}], "mark": {"type": "bar"}, "encoding": {"x": {"field": "g", "type": "nominal", "title": null, "axis": {"labelExpr": "split(datum.label, ' ')"}}, "fill": {"condition": {"test": "datum.g == 'Control mice'", "value": "#5a5a5a"}, "value": "#17788f"}}},
                {"data": {"name": "bars"}, "transform": [{"filter": "datum.p == 'B3' && datum.hi > datum.mean"}], "mark": {"type": "rule", "strokeWidth": 1.2}, "encoding": {"x": {"field": "g", "type": "nominal", "title": null}, "y2": {"field": "hi"}, "color": {"condition": {"test": "datum.g == 'Control mice'", "value": "#555555"}, "value": "#2b98ae"}}},
                {"data": {"name": "bars"}, "transform": [{"filter": "datum.p == 'B3' && datum.hi > datum.mean"}], "mark": {"type": "tick", "orient": "horizontal", "thickness": 1.2}, "encoding": {"x": {"field": "g", "type": "nominal", "title": null}, "y": {"field": "hi", "type": "quantitative"}, "size": {"value": 10}, "color": {"condition": {"test": "datum.g == 'Control mice'", "value": "#555555"}, "value": "#2b98ae"}}},
                {"data": {"name": "pts"}, "transform": [{"filter": "datum.p == 'B3'"}, {"window": [{"op": "row_number", "as": "m"}], "groupby": ["g"]}, {"window": [{"op": "cume_dist", "as": "cd"}], "groupby": ["g"], "sort": [{"field": "m"}]}], "mark": {"type": "point", "shape": "circle", "fill": "white", "fillOpacity": 1, "strokeWidth": 0.7, "size": 7, "opacity": 1}, "encoding": {"x": {"field": "g", "type": "nominal", "title": null}, "xOffset": {"field": "cd", "type": "quantitative", "scale": {"domain": [0, 1], "range": [-1, 21]}}, "y": {"field": "v", "type": "quantitative"}, "stroke": {"condition": {"test": "datum.g == 'Control mice'", "value": "#999999"}, "value": "#2b98ae"}}}
              ]
            }
          ]
        }
      ]
    },
    {
      "title": {"text": "C", "anchor": "start", "frame": "bounds", "fontSize": 13, "fontWeight": "bold", "offset": 1.7, "dx": -15, "color": "#111111"},
      "spacing": 100,
      "bounds": "flush",
      "hconcat": [
        {
          "width": 60, "height": 128,
          "title": {"text": ["Bone marrow (healthy mice)", "LT-HSC"]},
          "encoding": {"y": {"field": "mean", "type": "quantitative", "title": "% CD45+", "scale": {"domain": [0, 0.03], "nice": false, "zero": false}, "axis": {"values": [0, 0.01, 0.02, 0.03], "format": ".2f"}}},
          "layer": [
            {"data": {"name": "bars"}, "transform": [{"filter": "datum.p == 'C1'"}], "mark": {"type": "bar"}, "encoding": {"x": {"field": "g", "type": "nominal", "title": null, "axis": {"labelExpr": "split(datum.label, ' ')"}}, "fill": {"condition": {"test": "datum.g == 'Control mice'", "value": "#5a5a5a"}, "value": "#17788f"}}},
            {"data": {"name": "bars"}, "transform": [{"filter": "datum.p == 'C1' && datum.hi > datum.mean"}], "mark": {"type": "rule", "strokeWidth": 1.2}, "encoding": {"x": {"field": "g", "type": "nominal", "title": null}, "y2": {"field": "hi"}, "color": {"condition": {"test": "datum.g == 'Control mice'", "value": "#555555"}, "value": "#2b98ae"}}},
            {"data": {"name": "bars"}, "transform": [{"filter": "datum.p == 'C1' && datum.hi > datum.mean"}], "mark": {"type": "tick", "orient": "horizontal", "thickness": 1.2}, "encoding": {"x": {"field": "g", "type": "nominal", "title": null}, "y": {"field": "hi", "type": "quantitative"}, "size": {"value": 10}, "color": {"condition": {"test": "datum.g == 'Control mice'", "value": "#555555"}, "value": "#2b98ae"}}},
            {"data": {"name": "pts"}, "transform": [{"filter": "datum.p == 'C1'"}, {"window": [{"op": "row_number", "as": "m"}], "groupby": ["g"]}, {"window": [{"op": "cume_dist", "as": "cd"}], "groupby": ["g"], "sort": [{"field": "m"}]}], "mark": {"type": "point", "shape": "circle", "fill": "white", "fillOpacity": 1, "strokeWidth": 0.7, "size": 7, "opacity": 1}, "encoding": {"x": {"field": "g", "type": "nominal", "title": null}, "xOffset": {"field": "cd", "type": "quantitative", "scale": {"domain": [0, 1], "range": [-1, 20]}}, "y": {"field": "v", "type": "quantitative"}, "stroke": {"condition": {"test": "datum.g == 'Control mice'", "value": "#999999"}, "value": "#2b98ae"}}},
            {"data": {"name": "sig"}, "transform": [{"filter": "datum.p == 'C1'"}], "mark": {"type": "rule", "strokeWidth": 0.8, "color": "#333333"}, "encoding": {"x": {"field": "a", "type": "nominal", "title": null}, "x2": {"field": "b"}, "y": {"field": "y", "type": "quantitative"}}},
            {"data": {"name": "sig"}, "transform": [{"filter": "datum.p == 'C1'"}], "mark": {"type": "rule", "strokeWidth": 0.8, "color": "#333333"}, "encoding": {"x": {"field": "a", "type": "nominal", "title": null}, "y": {"field": "y", "type": "quantitative"}, "y2": {"field": "t"}}},
            {"data": {"name": "sig"}, "transform": [{"filter": "datum.p == 'C1'"}], "mark": {"type": "rule", "strokeWidth": 0.8, "color": "#333333"}, "encoding": {"x": {"field": "b", "type": "nominal", "title": null}, "y": {"field": "y", "type": "quantitative"}, "y2": {"field": "t"}}},
            {"data": {"name": "sig"}, "transform": [{"filter": "datum.p == 'C1'"}], "mark": {"type": "text", "fontSize": 6, "fontWeight": "bold", "baseline": "bottom", "dy": -0.5, "color": "#222222"}, "encoding": {"y": {"field": "y", "type": "quantitative"}, "text": {"field": "label"}}}
          ]
        },
        {
          "width": 65, "height": 128,
          "title": {"text": ["Bone marrow (healthy mice)", "ST-HSC"]},
          "encoding": {"y": {"field": "mean", "type": "quantitative", "title": "% CD45+", "scale": {"domain": [0, 0.004], "nice": false, "zero": false}, "axis": {"values": [0, 0.001, 0.002, 0.003, 0.004], "format": ".3f"}}},
          "layer": [
            {"data": {"name": "bars"}, "transform": [{"filter": "datum.p == 'C2'"}], "mark": {"type": "bar"}, "encoding": {"x": {"field": "g", "type": "nominal", "title": null, "axis": {"labelExpr": "split(datum.label, ' ')"}}, "fill": {"condition": {"test": "datum.g == 'Control mice'", "value": "#5a5a5a"}, "value": "#17788f"}}},
            {"data": {"name": "bars"}, "transform": [{"filter": "datum.p == 'C2' && datum.hi > datum.mean"}], "mark": {"type": "rule", "strokeWidth": 1.2}, "encoding": {"x": {"field": "g", "type": "nominal", "title": null}, "y2": {"field": "hi"}, "color": {"condition": {"test": "datum.g == 'Control mice'", "value": "#555555"}, "value": "#2b98ae"}}},
            {"data": {"name": "bars"}, "transform": [{"filter": "datum.p == 'C2' && datum.hi > datum.mean"}], "mark": {"type": "tick", "orient": "horizontal", "thickness": 1.2}, "encoding": {"x": {"field": "g", "type": "nominal", "title": null}, "y": {"field": "hi", "type": "quantitative"}, "size": {"value": 10}, "color": {"condition": {"test": "datum.g == 'Control mice'", "value": "#555555"}, "value": "#2b98ae"}}},
            {"data": {"name": "pts"}, "transform": [{"filter": "datum.p == 'C2'"}, {"window": [{"op": "row_number", "as": "m"}], "groupby": ["g"]}, {"window": [{"op": "cume_dist", "as": "cd"}], "groupby": ["g"], "sort": [{"field": "m"}]}], "mark": {"type": "point", "shape": "circle", "fill": "white", "fillOpacity": 1, "strokeWidth": 0.7, "size": 7, "opacity": 1}, "encoding": {"x": {"field": "g", "type": "nominal", "title": null}, "xOffset": {"field": "cd", "type": "quantitative", "scale": {"domain": [0, 1], "range": [-1, 21]}}, "y": {"field": "v", "type": "quantitative"}, "stroke": {"condition": {"test": "datum.g == 'Control mice'", "value": "#999999"}, "value": "#2b98ae"}}},
            {"data": {"name": "sig"}, "transform": [{"filter": "datum.p == 'C2'"}], "mark": {"type": "rule", "strokeWidth": 0.8, "color": "#333333"}, "encoding": {"x": {"field": "a", "type": "nominal", "title": null}, "x2": {"field": "b"}, "y": {"field": "y", "type": "quantitative"}}},
            {"data": {"name": "sig"}, "transform": [{"filter": "datum.p == 'C2'"}], "mark": {"type": "rule", "strokeWidth": 0.8, "color": "#333333"}, "encoding": {"x": {"field": "a", "type": "nominal", "title": null}, "y": {"field": "y", "type": "quantitative"}, "y2": {"field": "t"}}},
            {"data": {"name": "sig"}, "transform": [{"filter": "datum.p == 'C2'"}], "mark": {"type": "rule", "strokeWidth": 0.8, "color": "#333333"}, "encoding": {"x": {"field": "b", "type": "nominal", "title": null}, "y": {"field": "y", "type": "quantitative"}, "y2": {"field": "t"}}},
            {"data": {"name": "sig"}, "transform": [{"filter": "datum.p == 'C2'"}], "mark": {"type": "text", "fontSize": 6, "fontWeight": "bold", "baseline": "bottom", "dy": -0.5, "color": "#222222"}, "encoding": {"y": {"field": "y", "type": "quantitative"}, "text": {"field": "label"}}}
          ]
        },
        {
          "width": 63, "height": 128,
          "title": {"text": ["Bone marrow (healthy mice)", "MPP"]},
          "encoding": {"y": {"field": "mean", "type": "quantitative", "title": "% CD45+", "scale": {"domain": [0, 0.04], "nice": false, "zero": false}, "axis": {"values": [0, 0.01, 0.02, 0.03, 0.04], "format": ".2f"}}},
          "layer": [
            {"data": {"name": "bars"}, "transform": [{"filter": "datum.p == 'C3'"}], "mark": {"type": "bar"}, "encoding": {"x": {"field": "g", "type": "nominal", "title": null, "axis": {"labelExpr": "split(datum.label, ' ')"}}, "fill": {"condition": {"test": "datum.g == 'Control mice'", "value": "#5a5a5a"}, "value": "#17788f"}}},
            {"data": {"name": "bars"}, "transform": [{"filter": "datum.p == 'C3' && datum.hi > datum.mean"}], "mark": {"type": "rule", "strokeWidth": 1.2}, "encoding": {"x": {"field": "g", "type": "nominal", "title": null}, "y2": {"field": "hi"}, "color": {"condition": {"test": "datum.g == 'Control mice'", "value": "#555555"}, "value": "#2b98ae"}}},
            {"data": {"name": "bars"}, "transform": [{"filter": "datum.p == 'C3' && datum.hi > datum.mean"}], "mark": {"type": "tick", "orient": "horizontal", "thickness": 1.2}, "encoding": {"x": {"field": "g", "type": "nominal", "title": null}, "y": {"field": "hi", "type": "quantitative"}, "size": {"value": 10}, "color": {"condition": {"test": "datum.g == 'Control mice'", "value": "#555555"}, "value": "#2b98ae"}}},
            {"data": {"name": "pts"}, "transform": [{"filter": "datum.p == 'C3'"}, {"window": [{"op": "row_number", "as": "m"}], "groupby": ["g"]}, {"window": [{"op": "cume_dist", "as": "cd"}], "groupby": ["g"], "sort": [{"field": "m"}]}], "mark": {"type": "point", "shape": "circle", "fill": "white", "fillOpacity": 1, "strokeWidth": 0.7, "size": 7, "opacity": 1}, "encoding": {"x": {"field": "g", "type": "nominal", "title": null}, "xOffset": {"field": "cd", "type": "quantitative", "scale": {"domain": [0, 1], "range": [-1, 21]}}, "y": {"field": "v", "type": "quantitative"}, "stroke": {"condition": {"test": "datum.g == 'Control mice'", "value": "#999999"}, "value": "#2b98ae"}}},
            {"data": {"name": "sig"}, "transform": [{"filter": "datum.p == 'C3'"}], "mark": {"type": "rule", "strokeWidth": 0.8, "color": "#333333"}, "encoding": {"x": {"field": "a", "type": "nominal", "title": null}, "x2": {"field": "b"}, "y": {"field": "y", "type": "quantitative"}}},
            {"data": {"name": "sig"}, "transform": [{"filter": "datum.p == 'C3'"}], "mark": {"type": "rule", "strokeWidth": 0.8, "color": "#333333"}, "encoding": {"x": {"field": "a", "type": "nominal", "title": null}, "y": {"field": "y", "type": "quantitative"}, "y2": {"field": "t"}}},
            {"data": {"name": "sig"}, "transform": [{"filter": "datum.p == 'C3'"}], "mark": {"type": "rule", "strokeWidth": 0.8, "color": "#333333"}, "encoding": {"x": {"field": "b", "type": "nominal", "title": null}, "y": {"field": "y", "type": "quantitative"}, "y2": {"field": "t"}}},
            {"data": {"name": "sig"}, "transform": [{"filter": "datum.p == 'C3'"}], "mark": {"type": "text", "fontSize": 7, "fontWeight": "bold", "baseline": "bottom", "dy": 0.5, "color": "#222222"}, "encoding": {"y": {"field": "y", "type": "quantitative"}, "text": {"field": "label"}}}
          ]
        },
        {
          "width": 70, "height": 128,
          "title": {"text": ["Bone marrow (healthy mice)", "LMPP"]},
          "encoding": {"y": {"field": "mean", "type": "quantitative", "title": "% CD45+", "scale": {"domain": [0, 0.01], "nice": false, "zero": false}, "axis": {"values": [0, 0.002, 0.004, 0.006, 0.008, 0.01], "format": ".3f"}}},
          "layer": [
            {"data": {"name": "bars"}, "transform": [{"filter": "datum.p == 'C4'"}], "mark": {"type": "bar"}, "encoding": {"x": {"field": "g", "type": "nominal", "title": null, "axis": {"labelExpr": "split(datum.label, ' ')"}}, "fill": {"condition": {"test": "datum.g == 'Control mice'", "value": "#5a5a5a"}, "value": "#17788f"}}},
            {"data": {"name": "bars"}, "transform": [{"filter": "datum.p == 'C4' && datum.hi > datum.mean"}], "mark": {"type": "rule", "strokeWidth": 1.2}, "encoding": {"x": {"field": "g", "type": "nominal", "title": null}, "y2": {"field": "hi"}, "color": {"condition": {"test": "datum.g == 'Control mice'", "value": "#555555"}, "value": "#2b98ae"}}},
            {"data": {"name": "bars"}, "transform": [{"filter": "datum.p == 'C4' && datum.hi > datum.mean"}], "mark": {"type": "tick", "orient": "horizontal", "thickness": 1.2}, "encoding": {"x": {"field": "g", "type": "nominal", "title": null}, "y": {"field": "hi", "type": "quantitative"}, "size": {"value": 10}, "color": {"condition": {"test": "datum.g == 'Control mice'", "value": "#555555"}, "value": "#2b98ae"}}},
            {"data": {"name": "pts"}, "transform": [{"filter": "datum.p == 'C4'"}, {"window": [{"op": "row_number", "as": "m"}], "groupby": ["g"]}, {"window": [{"op": "cume_dist", "as": "cd"}], "groupby": ["g"], "sort": [{"field": "m"}]}], "mark": {"type": "point", "shape": "circle", "fill": "white", "fillOpacity": 1, "strokeWidth": 0.7, "size": 7, "opacity": 1}, "encoding": {"x": {"field": "g", "type": "nominal", "title": null}, "xOffset": {"field": "cd", "type": "quantitative", "scale": {"domain": [0, 1], "range": [-1, 23]}}, "y": {"field": "v", "type": "quantitative"}, "stroke": {"condition": {"test": "datum.g == 'Control mice'", "value": "#999999"}, "value": "#2b98ae"}}}
          ]
        },
        {
          "width": 60, "height": 128,
          "title": {"text": ["Bone marrow (healthy mice)", "LK/CLP"]},
          "encoding": {"y": {"field": "mean", "type": "quantitative", "title": "% CD45+", "scale": {"domain": [0, 1.6], "nice": false, "zero": false}, "axis": {"values": [0, 0.2, 0.4, 0.6, 0.8, 1, 1.2, 1.4, 1.6], "format": ".1f"}}},
          "layer": [
            {"data": {"name": "bars"}, "transform": [{"filter": "datum.p == 'C5'"}], "mark": {"type": "bar"}, "encoding": {"x": {"field": "g", "type": "nominal", "title": null, "axis": {"labelExpr": "split(datum.label, ' ')"}}, "fill": {"condition": {"test": "datum.g == 'Control mice'", "value": "#5a5a5a"}, "value": "#17788f"}}},
            {"data": {"name": "bars"}, "transform": [{"filter": "datum.p == 'C5' && datum.hi > datum.mean"}], "mark": {"type": "rule", "strokeWidth": 1.2}, "encoding": {"x": {"field": "g", "type": "nominal", "title": null}, "y2": {"field": "hi"}, "color": {"condition": {"test": "datum.g == 'Control mice'", "value": "#555555"}, "value": "#2b98ae"}}},
            {"data": {"name": "bars"}, "transform": [{"filter": "datum.p == 'C5' && datum.hi > datum.mean"}], "mark": {"type": "tick", "orient": "horizontal", "thickness": 1.2}, "encoding": {"x": {"field": "g", "type": "nominal", "title": null}, "y": {"field": "hi", "type": "quantitative"}, "size": {"value": 10}, "color": {"condition": {"test": "datum.g == 'Control mice'", "value": "#555555"}, "value": "#2b98ae"}}},
            {"data": {"name": "pts"}, "transform": [{"filter": "datum.p == 'C5'"}, {"window": [{"op": "row_number", "as": "m"}], "groupby": ["g"]}, {"window": [{"op": "cume_dist", "as": "cd"}], "groupby": ["g"], "sort": [{"field": "m"}]}], "mark": {"type": "point", "shape": "circle", "fill": "white", "fillOpacity": 1, "strokeWidth": 0.7, "size": 7, "opacity": 1}, "encoding": {"x": {"field": "g", "type": "nominal", "title": null}, "xOffset": {"field": "cd", "type": "quantitative", "scale": {"domain": [0, 1], "range": [-1, 20]}}, "y": {"field": "v", "type": "quantitative"}, "stroke": {"condition": {"test": "datum.g == 'Control mice'", "value": "#999999"}, "value": "#2b98ae"}}}
          ]
        }
      ]
    }
  ]
}
